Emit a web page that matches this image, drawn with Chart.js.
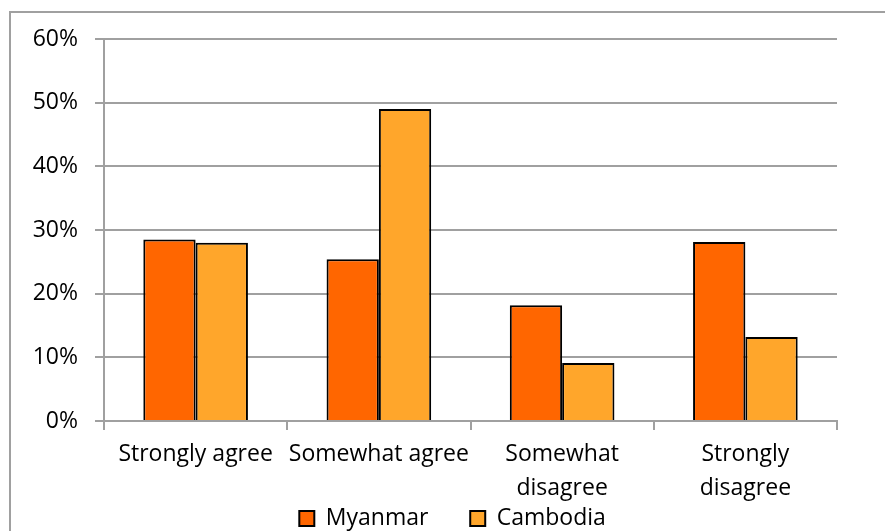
<!DOCTYPE html>
<html>
<head>
<meta charset="utf-8">
<script src="https://cdn.jsdelivr.net/npm/chart.js@4.4.0/dist/chart.umd.min.js"></script>
<style>
  html, body { margin: 0; padding: 0; background: #fff; }
  canvas { display: block; }
</style>
</head>
<body>
<canvas id="myChart" width="885" height="531"></canvas>
<script>
var categories = ["Strongly agree", "Somewhat agree", ["Somewhat", "disagree"], ["Strongly", "disagree"]]
var myanmar = [28.5, 25.4, 18.2, 28.1]
var cambodia = [28, 49, 9.1, 13.2]
var yTicks = [0, 10, 20, 30, 40, 50, 60]

var fontFam = "'Open Sans', 'Noto Sans', sans-serif"

// outer frame of the chart (only top and left edges visible)
var framePlugin = {
	id: 'frame',
	beforeDraw: function(chart){
		var c = chart.ctx
		c.save()
		c.strokeStyle = '#a0a0a0'
		c.lineWidth = 2
		c.beginPath()
		c.moveTo(10, 531)
		c.lineTo(10, 12)
		c.lineTo(885, 12)
		c.stroke()
		c.restore()
	}
}

var ctx = document.getElementById("myChart").getContext('2d')

var chart = new Chart(ctx, {
	type: 'bar',
	data: {
		labels: categories,
		datasets: [
			{
				label: "Myanmar",
				data: myanmar,
				backgroundColor: "#FF6600",
				borderColor: "#000",
				borderWidth: 2
			},
			{
				label: "Cambodia",
				data: cambodia,
				backgroundColor: "#FFA62B",
				borderColor: "#000",
				borderWidth: 2
			}
		]
	},
	options: {
		responsive: false,
		animation: false,
		layout: { padding: { left: 0, right: 48, top: 39, bottom: 0 } },
		datasets: { bar: { categoryPercentage: 0.571, barPercentage: 1 } },
		plugins: {
			tooltip: { enabled: false },
			legend: {
				position: 'bottom',
				fullSize: false,
				maxHeight: 30,
				labels: {
					boxWidth: 15,
					boxHeight: 15,
					padding: 6,
					color: '#000',
					font: { family: fontFam, size: 23 },
					generateLabels: function(ch){
						var items = Chart.defaults.plugins.legend.labels.generateLabels(ch)
						// trailing spaces: wider gap between entries, row shifted like the original
						items[0].text = items[0].text + '      '
						items[1].text = items[1].text + '      '
						return items
					}
				}
			}
		},
		scales: {
			x: {
				afterFit: function(s){ s.height = 80 },
				grid: {
					offset: true,
					drawOnChartArea: false,
					drawTicks: true,
					tickLength: 9,
					color: '#a0a0a0',
					lineWidth: 2
				},
				border: { color: '#a0a0a0', width: 2 },
				ticks: {
					padding: 8,
					color: '#000',
					maxRotation: 0,
					autoSkip: false,
					font: { family: fontFam, size: 23, lineHeight: 1.45 }
				}
			},
			y: {
				min: 0,
				max: 60,
				afterFit: function(s){ s.width = 104 },
				afterBuildTicks: function(s){
					s.ticks = yTicks.map(function(v){ return { value: v } })
				},
				grid: {
					color: '#a0a0a0',
					lineWidth: 2,
					tickLength: 9
				},
				border: { color: '#a0a0a0', width: 2 },
				ticks: {
					padding: 17,
					color: '#000',
					font: { family: fontFam, size: 23 },
					callback: function(v){ return v + '%' }
				}
			}
		}
	},
	plugins: [framePlugin]
})
</script>
</body>
</html>
